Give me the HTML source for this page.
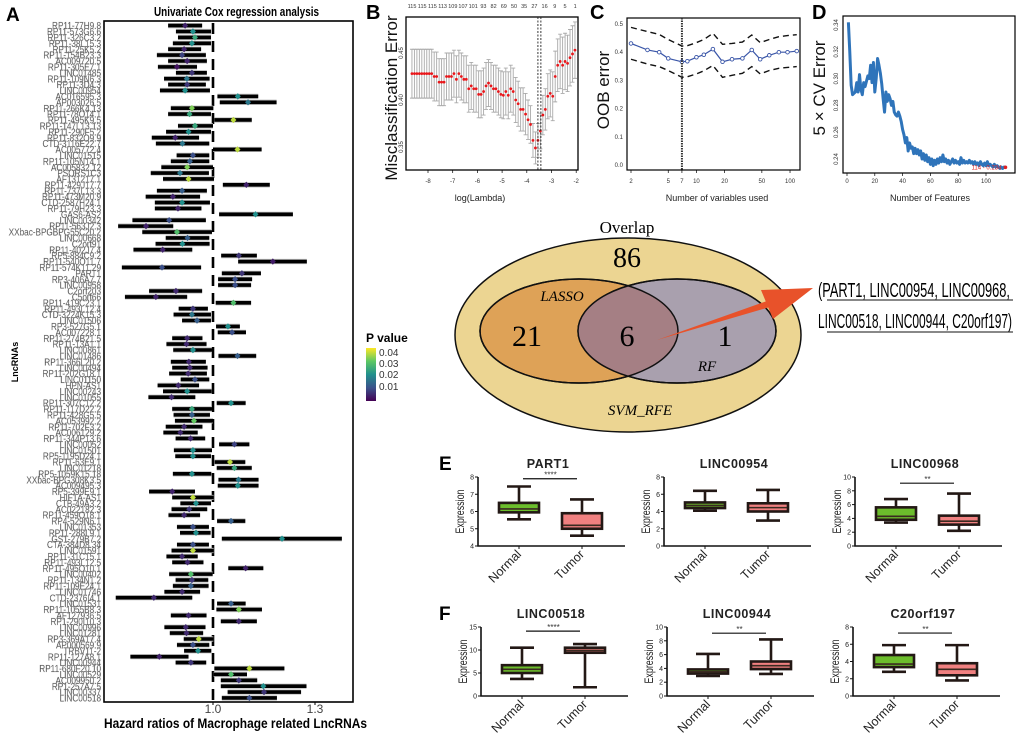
<!DOCTYPE html>
<html><head><meta charset="utf-8"><style>
html,body{margin:0;padding:0;background:#fff;}
svg{display:block;font-family:"Liberation Sans",sans-serif;}
</style></head><body>
<svg id="fig" width="1020" height="736" viewBox="0 0 1020 736" xmlns="http://www.w3.org/2000/svg">
<defs>
<linearGradient id="vir" x1="0" y1="1" x2="0" y2="0">
<stop offset="0" stop-color="#440154"/><stop offset="0.25" stop-color="#3b528b"/><stop offset="0.5" stop-color="#21908d"/><stop offset="0.75" stop-color="#5dc863"/><stop offset="1" stop-color="#fde725"/>
</linearGradient>
<clipPath id="lassoClip"><ellipse cx="579" cy="331" rx="99" ry="52"/></clipPath>
</defs>
<text x="6" y="21" font-size="19" font-weight="bold">A</text>
<text x="366" y="19" font-size="20" font-weight="bold">B</text>
<text x="590" y="19" font-size="20" font-weight="bold">C</text>
<text x="812" y="19" font-size="20" font-weight="bold">D</text>
<text x="439" y="470" font-size="19" font-weight="bold">E</text>
<text x="439" y="620" font-size="19" font-weight="bold">F</text>

<text x="154" y="16" font-size="13" font-weight="bold" textLength="165" lengthAdjust="spacingAndGlyphs">Univariate Cox regression analysis</text>
<text transform="translate(18,362) rotate(-90)" text-anchor="middle" font-size="9" font-weight="bold">LncRNAs</text>
<text x="104" y="728" font-size="14" font-weight="bold" textLength="263" lengthAdjust="spacingAndGlyphs">Hazard ratios of Macrophage related LncRNAs</text>
<g id="forest"></g>

<g>
<text x="366" y="342" font-size="12" font-weight="bold">P value</text>
<rect x="366" y="348" width="10" height="53" fill="url(#vir)"/>
<text x="379" y="356" font-size="10" fill="#333">0.04</text>
<text x="379" y="367" font-size="10" fill="#333">0.03</text>
<text x="379" y="378" font-size="10" fill="#333">0.02</text>
<text x="379" y="390" font-size="10" fill="#333">0.01</text>
</g>

<g id="panelB"></g>
<g id="panelC"></g>
<g id="panelD"></g>

<g>
<ellipse cx="628" cy="335" rx="173" ry="97" fill="#ecd592" stroke="#111" stroke-width="1.5"/>
<ellipse cx="579" cy="331" rx="99" ry="52" fill="#dea257" stroke="#111" stroke-width="1.5"/>
<ellipse cx="677" cy="331" rx="99" ry="52" fill="#a9a0ae" stroke="#111" stroke-width="1.5"/>
<ellipse cx="677" cy="331" rx="99" ry="52" fill="#a57f84" clip-path="url(#lassoClip)"/>
<ellipse cx="579" cy="331" rx="99" ry="52" fill="none" stroke="#111" stroke-width="1.5"/>
<ellipse cx="677" cy="331" rx="99" ry="52" fill="none" stroke="#111" stroke-width="1.5"/>
<text x="627" y="233" text-anchor="middle" font-family="Liberation Serif,serif" font-size="17">Overlap</text>
<text x="627" y="267" text-anchor="middle" font-family="Liberation Serif,serif" font-size="28">86</text>
<text x="562" y="301" text-anchor="middle" font-family="Liberation Serif,serif" font-size="15" font-style="italic">LASSO</text>
<text x="527" y="346" text-anchor="middle" font-family="Liberation Serif,serif" font-size="30">21</text>
<text x="627" y="346" text-anchor="middle" font-family="Liberation Serif,serif" font-size="30">6</text>
<text x="725" y="346" text-anchor="middle" font-family="Liberation Serif,serif" font-size="30">1</text>
<text x="707" y="371" text-anchor="middle" font-family="Liberation Serif,serif" font-size="15" font-style="italic">RF</text>
<text x="640" y="415" text-anchor="middle" font-family="Liberation Serif,serif" font-size="15" font-style="italic">SVM_RFE</text>
<polygon points="657,340 767,301 770,307" fill="#e8522a"/>
<polygon points="813,288 761,290 773,319" fill="#e8522a"/>
<text x="818" y="297" font-size="20" textLength="192" lengthAdjust="spacingAndGlyphs">(PART1, LINC00954, LINC00968,</text>
<text x="818" y="328" font-size="20" textLength="194" lengthAdjust="spacingAndGlyphs">LINC00518, LINC00944, C20orf197)</text>
<line x1="827" y1="300" x2="1013" y2="300" stroke="#111" stroke-width="1"/>
<line x1="827" y1="332" x2="1013" y2="332" stroke="#111" stroke-width="1"/>
</g>
<g id="boxes"></g>
</svg>
<script>
const lncNames=["RP11-77H9.8","RP11-573G6.6","RP11-326C3.2","RP11-38L15.3","RP11-25K5.2","RP11-154B23.3","AC009720.5","RP11-305E7.1","LINC01485","RP11-109N6.3","RP11-3D4.3","LINC00954","AC016595.3","AP003026.5","RP11-266K4.13","RP11-78O14.1","RP11-495K9.5","RP11-147L13.13","RP11-290F5.2","RP11-832O9.9","CTD-3116E22.7","AC005772.4","LINC01515","RP11-105N14.1","AC005832.12","PSORS1C3","AF131217.1","RP11-429J17.7","RP11-737L13.3","RP11-473M20.9","CTD-2587H24.1","RP11-79H23.3","GAS6-AS2","LINC00342","RP11-563J2.3","XXbac-BPGBPG55C20.2","LINC00668","C2orf91","RP11-402J7.4","RP5-884C9.2","RP11-540O11.7","RP11-574K11.29","PART1","RP3-406A7.7","LINC00958","C2orf203","C5orf66","RP11-419C23.1","RP11-493L12.4","CTD-3224K15.3","LINC01506","RP3-527G5.1","AC007228.1","RP11-274B21.5","RP11-13A1.1","LINC00861","LINC01486","RP11-366L20.2","LINC00494","RP11-202G18.1","LINC01150","HPN-AS1","LINC00243","LINC01055","RP11-307C12.2","RP11-117D22.2","RP11-428G5.5","AC053992.2","RP11-702F3.2","AC006129.2","RP11-344P13.6","LINC00052","LINC01501","RP5-1195D24.1","RP11-63E9.1","LINC01218","RP5-1059K15.18","XXbac-BPG308K3.5","AC009495.3","RP5-399E9.1","HIF1A-AS1","CTB-49A3.2","AC022182.3","RP11-459O18.1","RP4-529N6.1","LINC01353","RP11-288L9.1","GS1-279B7.2","CTA-384D8.34","LINC01591","RP11-31C15.1","RP11-493L12.5","RP11-495O10.1","LINC00402","RP11-134N1.2","RP11-109E24.1","LINC01746","CTD-2376I4.1","LINC01531","RP11-1055B8.3","AF127936.5","RP1-290I10.3","LINC00996","LINC01281","RP3-369A17.4","AP000569.9","TRBV11-2","RP11-127A8.1","LINC00944","RP11-680F20.10","LINC00529","AC009950.2","RP1-257A7.5","LINC00337","LINC00518"];
const hrVals=[.918,.941,.947,.938,.915,.909,.924,.894,.938,.923,.924,.918,1.073,1.103,.938,.931,1.06,.947,.928,.889,.910,1.072,.941,.932,.924,.903,.928,1.098,.909,.882,.909,.897,1.125,.871,.803,.894,.925,.910,.852,1.076,1.176,.850,1.085,1.065,1.065,.891,.832,1.06,.941,.938,.953,1.044,1.056,.924,.922,.941,1.072,.929,.932,.927,.947,.898,.924,.878,1.053,.938,.938,.944,.915,.904,.934,1.063,.941,.941,1.05,1.063,.938,1.075,1.073,.880,.941,.950,.930,.915,1.053,.941,.950,1.203,.941,.941,.909,.925,1.096,.935,.938,.935,.909,.826,1.053,1.076,.928,1.076,.920,.922,.958,.941,.956,.842,.935,1.107,1.053,1.076,1.148,1.150,1.107];
const loVals=[.868,.891,.897,.882,.868,.835,.868,.838,.891,.856,.868,.844,1.013,1.020,.876,.868,1.004,.897,.862,.820,.832,1.0,.893,.876,.848,.817,.853,1.029,.835,.802,.829,.829,1.018,.763,.721,.792,.861,.831,.766,1.024,1.074,.732,1.026,1.015,1.015,.812,.741,1.008,.899,.884,.909,1.009,1.014,.880,.863,.883,1.016,.876,.880,.871,.905,.837,.853,.810,1.011,.880,.884,.888,.861,.854,.890,1.018,.885,.889,1.005,1.011,.882,1.016,1.014,.812,.880,.904,.878,.869,1.012,.894,.903,1.026,.894,.878,.863,.880,1.045,.871,.890,.882,.857,.714,1.012,1.010,.876,1.023,.857,.873,.914,.894,.915,.757,.890,1.004,1.002,1.023,1.023,1.043,1.026];
const hiVals=[.968,.994,.994,.994,.965,.979,.982,.953,.982,.990,.979,.991,1.133,1.187,1.001,.994,1.114,1.0,.994,.959,.989,1.143,.989,.989,1.0,.988,1.003,1.167,.982,.962,.991,.966,1.235,.979,.883,.997,.989,.990,.939,1.129,1.276,.965,1.141,1.115,1.112,.968,.924,1.112,.985,.994,.994,1.079,1.097,.969,.981,.997,1.127,.979,.984,.982,.989,.959,.996,.948,1.096,.997,.991,1.0,.969,.955,.977,1.107,.997,.994,1.095,1.114,.995,1.134,1.134,.947,1.002,.994,.983,.962,1.095,.988,.993,1.379,.988,1.002,.955,.972,1.148,.999,.986,.987,.962,.939,1.096,1.144,.981,1.129,.978,.971,1.001,.989,.995,.928,.980,1.210,1.100,1.130,1.275,1.259,1.188];
const pVals=[.005,.025,.03,.025,.005,.01,.005,.003,.008,.02,.008,.025,.025,.02,.04,.03,.045,.03,.025,.005,.02,.045,.012,.015,.04,.02,.045,.005,.015,.005,.025,.005,.025,.012,.005,.035,.015,.025,.005,.008,.004,.012,.008,.012,.012,.006,.005,.035,.008,.02,.015,.025,.012,.006,.006,.025,.015,.006,.006,.006,.012,.006,.025,.006,.025,.03,.015,.038,.006,.006,.006,.01,.025,.025,.045,.03,.025,.02,.025,.005,.045,.025,.008,.006,.015,.012,.025,.025,.012,.045,.006,.006,.005,.035,.008,.015,.006,.006,.015,.04,.006,.006,.006,.006,.045,.012,.025,.005,.008,.045,.035,.008,.025,.008,.012];
const hrTicks=[1.0,1.3];

const lambdaB=[-8.65,-8.55,-8.45,-8.35,-8.25,-8.15,-8.05,-7.95,-7.85,-7.75,-7.65,-7.55,-7.45,-7.35,-7.25,-7.15,-7.05,-6.95,-6.85,-6.75,-6.65,-6.55,-6.45,-6.35,-6.25,-6.15,-6.05,-5.95,-5.85,-5.75,-5.65,-5.55,-5.45,-5.35,-5.25,-5.15,-5.05,-4.95,-4.85,-4.75,-4.65,-4.55,-4.45,-4.35,-4.25,-4.15,-4.05,-3.95,-3.85,-3.75,-3.65,-3.55,-3.45,-3.35,-3.25,-3.15,-3.05,-2.95,-2.85,-2.75,-2.65,-2.55,-2.45,-2.35,-2.25,-2.15,-2.05];
const errB=[.428,.428,.428,.428,.428,.428,.428,.428,.428,.425,.425,.419,.419,.419,.425,.425,.425,.428,.422,.428,.425,.422,.422,.412,.415,.412,.412,.406,.406,.409,.415,.418,.415,.412,.412,.409,.406,.405,.409,.405,.412,.409,.400,.396,.390,.390,.385,.379,.374,.357,.349,.357,.367,.384,.390,.404,.407,.404,.425,.437,.441,.437,.441,.439,.445,.449,.453];
const sdB=[.026,.026,.026,.026,.026,.026,.026,.026,.026,.026,.026,.025,.025,.025,.025,.025,.025,.025,.025,.025,.025,.025,.025,.025,.025,.025,.025,.025,.025,.025,.025,.025,.025,.025,.025,.025,.025,.025,.025,.025,.025,.025,.024,.024,.023,.023,.022,.021,.02,.018,.017,.018,.019,.021,.022,.024,.025,.026,.027,.028,.029,.03,.03,.03,.03,.03,.03];
const topNumB=["115","115","115","113","109","107","101","93","82","69","50","35","27","16","9","5","1"];
const xTicksB=[-8,-7,-6,-5,-4,-3,-2];
const yTicksB=[0.35,0.40,0.45];
const optLambdaB=[-3.55,-3.43];

const nVarsC=[2,3,4,5,7,8,10,12,15,19,24,31,39,48,60,76,94,118];
const oobC=[.431,.408,.40,.378,.366,.368,.382,.391,.411,.366,.375,.378,.408,.375,.389,.40,.40,.404];
const upperC=[.488,.473,.463,.445,.422,.423,.434,.445,.467,.428,.431,.436,.461,.434,.445,.455,.459,.462];
const lowerC=[.375,.358,.349,.335,.311,.313,.323,.334,.353,.311,.318,.325,.349,.323,.335,.343,.346,.349];
const xTicksC=[2,5,7,10,20,50,100];
const yTicksC=[0,0.1,0.2,0.3,0.4,0.5];
const bestC=7;

const cvErrD=[.342,.32,.295,.288,.289,.29,.297,.29,.303,.292,.288,.297,.294,.298,.302,.300,.31,.297,.312,.29,.30,.315,.31,.304,.296,.285,.275,.29,.283,.288,.285,.28,.283,.275,.273,.272,.275,.272,.268,.262,.258,.252,.256,.246,.252,.248,.249,.244,.248,.244,.247,.243,.246,.240,.244,.239,.243,.238,.241,.236,.240,.235,.239,.236,.240,.237,.241,.238,.243,.238,.240,.237,.239,.236,.238,.240,.237,.239,.237,.238,.236,.241,.237,.239,.237,.238,.237,.239,.237,.238,.236,.238,.236,.237,.235,.238,.236,.235,.237,.235,.238,.235,.236,.235,.234,.236,.234,.235,.234,.233,.234,.233,.234,.2338];
const xTicksD=[0,20,40,60,80,100];
const yTicksD=[0.24,0.26,0.28,0.30,0.32,0.34];

const geneTitles=["PART1","LINC00954","LINC00968","LINC00518","LINC00944","C20orf197"];
const normalStats=[[5.55,5.95,6.15,6.5,7.45],[4.1,4.4,4.7,5.05,6.4],[3.4,3.8,4.3,5.6,6.8],[3.7,5.0,5.8,6.7,10.5],[2.9,3.25,3.5,3.85,6.1],[2.8,3.35,3.7,4.75,5.9]];
const tumorStats=[[4.6,5.0,5.2,5.9,6.7],[2.95,4.0,4.45,4.95,6.5],[2.2,3.1,3.6,4.4,7.6],[1.9,9.4,9.9,10.5,11.3],[3.2,3.9,4.4,5.0,8.2],[1.8,2.4,3.1,3.8,5.9]];
const yRanges=[[4,8,1],[0,8,2],[0,10,2],[0,15,5],[0,10,2],[0,8,2]];
const sigLabels=["****","","**","****","**","**"];
const sigLevels=[7.9,0,9.1,14.1,9.1,7.3];

const NS='http://www.w3.org/2000/svg';
function mk(tag,attrs,parent){const e=document.createElementNS(NS,tag);for(const k in attrs)e.setAttribute(k,attrs[k]);parent.appendChild(e);return e;}
function viridis(t){const s=[[68,1,84],[59,82,139],[33,144,141],[93,200,99],[253,231,37]];t=Math.max(0,Math.min(1,t))*4;const i=Math.min(3,Math.floor(t)),f=t-i;const c=s[i].map((v,k)=>Math.round(v+(s[i+1][k]-v)*f));return 'rgb('+c.join(',')+')';}

(function(){
const g=document.getElementById('forest');
const xA=v=>213+(v-1)*340, yA=i=>25.6+i*5.898;
const L=104,R=353,T=21,B=702;
let e=mk('line',{x1:xA(1),y1:T+2,x2:xA(1),y2:B-2,stroke:'#000','stroke-width':2.6,'stroke-dasharray':'11,7'},g);


const lab=mk('g',{transform:'translate(101,0) scale(0.78,1)'},g);


for(let i=0;i<lncNames.length;i++){
 const y=yA(i);
 const t=mk('text',{x:0,y:y+3.6,'text-anchor':'end','font-size':10.5,fill:'#3a3a3a',stroke:'#bbb','stroke-width':0.3},lab);
 t.textContent=lncNames[i];
 
 
 const h=mk('line',{x1:xA(loVals[i]),y1:y,x2:xA(hiVals[i]),y2:y,stroke:'#bdbdbd','stroke-width':5.2},g);
 
 
 const c=mk('line',{x1:xA(loVals[i]),y1:y,x2:xA(hiVals[i]),y2:y,stroke:'#000','stroke-width':3.6},g);
 
 
 const x=xA(hrVals[i]);
 const p=mk('polygon',{points:`${x},${y-3.2} ${x+3},${y} ${x},${y+3.2} ${x-3},${y}`,fill:viridis(pVals[i]/0.05)},g);
 
 
}
e=mk('rect',{x:L,y:T,width:R-L,height:B-T,fill:'none',stroke:'#000','stroke-width':1.6},g);


hrTicks.forEach(v=>{
 const tk=mk('line',{x1:xA(v),y1:B,x2:xA(v),y2:B+3,stroke:'#000'},g);
 
 
 const tl=mk('text',{x:xA(v),y:B+11,'text-anchor':'middle','font-size':12,fill:'#444'},g);
 tl.textContent=v.toFixed(1);
 
 
});
})();

(function(){
const g=document.getElementById('panelB');
const L=406,R=578,T=17,B=170;
const xB=v=>428+(v+8)*24.7, yB=v=>100-(v-0.40)*940;
let e=mk('rect',{x:L,y:T,width:R-L,height:B-T,fill:'none',stroke:'#000','stroke-width':1.3},g);


for(let i=0;i<lambdaB.length;i++){
 const x=xB(lambdaB[i]),y1=yB(errB[i]+sdB[i]),y2=yB(errB[i]-sdB[i]);
 const eb=mk('path',{d:`M${x},${y1}V${y2}M${x-2},${y1}H${x+2}M${x-2},${y2}H${x+2}`,stroke:'#aaa','stroke-width':0.9,fill:'none'},g);
 
 
}
for(let i=0;i<lambdaB.length;i++){
 const d=mk('circle',{cx:xB(lambdaB[i]),cy:yB(errB[i]),r:1.4,fill:'#e8171b'},g);
 
 
}
optLambdaB.forEach(v=>{
 const l=mk('line',{x1:xB(v),y1:T,x2:xB(v),y2:B,stroke:'#222','stroke-width':0.9,'stroke-dasharray':'2,1.5'},g);
 
 
});
topNumB.forEach((s,i)=>{
 const t=mk('text',{x:412+i*10.2,y:8,'text-anchor':'middle','font-size':5.5,fill:'#333'},g);
 t.textContent=s;
 
 
});
xTicksB.forEach(v=>{
 const t=mk('text',{x:xB(v),y:183,'text-anchor':'middle','font-size':6,fill:'#333'},g);
 t.textContent=v;
 
 
 const tk=mk('line',{x1:xB(v),y1:B,x2:xB(v),y2:B+3,stroke:'#000','stroke-width':0.7},g);
 
 
});
yTicksB.forEach(v=>{
 const t=mk('text',{transform:`translate(403,${yB(v)}) rotate(-90)`,'text-anchor':'middle','font-size':6,fill:'#333'},g);
 t.textContent=v.toFixed(2);
 
 
});
let t=mk('text',{transform:'translate(397,98) rotate(-90)','text-anchor':'middle','font-size':17,fill:'#111'},g);
t.textContent='Misclassification Error';


t=mk('text',{x:480,y:201,'text-anchor':'middle','font-size':9,fill:'#222'},g);
t.textContent='log(Lambda)';


})();

(function(){
const g=document.getElementById('panelC');
const L=627,R=800,T=18,B=170;
const xC=n=>631+Math.log10(n/2)*93.6, yC=v=>165-v*282;
let e=mk('rect',{x:L,y:T,width:R-L,height:B-T,fill:'none',stroke:'#000','stroke-width':1.2},g);


const path=a=>a.map((v,i)=>(i?'L':'M')+xC(nVarsC[i])+','+yC(v)).join('');
e=mk('path',{d:path(upperC),fill:'none',stroke:'#111','stroke-width':1.4,'stroke-dasharray':'6,4'},g);


e=mk('path',{d:path(lowerC),fill:'none',stroke:'#111','stroke-width':1.4,'stroke-dasharray':'6,4'},g);


e=mk('path',{d:path(oobC),fill:'none',stroke:'#3a56a8','stroke-width':1.2},g);


oobC.forEach((v,i)=>{
 const c=mk('circle',{cx:xC(nVarsC[i]),cy:yC(v),r:1.8,fill:'#fff',stroke:'#3a56a8','stroke-width':0.9},g);
 
 
});
e=mk('line',{x1:xC(bestC),y1:T,x2:xC(bestC),y2:B,stroke:'#333','stroke-width':2,'stroke-dasharray':'1.5,1'},g);


xTicksC.forEach(v=>{
 const t=mk('text',{x:xC(v),y:183,'text-anchor':'middle','font-size':6,fill:'#333'},g);
 t.textContent=v;
 
 
 const tk=mk('line',{x1:xC(v),y1:B,x2:xC(v),y2:B+3,stroke:'#000','stroke-width':0.7},g);
 
 
});
yTicksC.forEach(v=>{
 const t=mk('text',{x:623,y:yC(v)+2,'text-anchor':'end','font-size':6,fill:'#333'},g);
 t.textContent=v.toFixed(1);
 
 
});
let t=mk('text',{transform:'translate(609,90) rotate(-90)','text-anchor':'middle','font-size':17,fill:'#111'},g);
t.textContent='OOB error';


t=mk('text',{x:717,y:201,'text-anchor':'middle','font-size':9,fill:'#222'},g);
t.textContent='Number of variables used';


})();

(function(){
const g=document.getElementById('panelD');
const L=843,R=1015,T=16,B=173;
const xD=n=>847+n*1.39, yD=v=>25+(0.34-v)*1340;
let e=mk('rect',{x:L,y:T,width:R-L,height:B-T,fill:'none',stroke:'#000','stroke-width':1.2},g);


e=mk('path',{d:cvErrD.map((v,i)=>(i?'L':'M')+xD(i+1)+','+yD(v)).join(''),fill:'none',stroke:'#2f74ba','stroke-width':3,'stroke-linejoin':'round'},g);


const n=cvErrD.length;
e=mk('circle',{cx:xD(n),cy:yD(cvErrD[n-1]),r:1.8,fill:'#e02020'},g);


e=mk('text',{x:xD(n)-4,y:yD(cvErrD[n-1])+2,'text-anchor':'end','font-size':6,fill:'#e02020'},g);
e.textContent=n+' - '+cvErrD[n-1].toFixed(3);


xTicksD.forEach(v=>{
 const t=mk('text',{x:xD(v),y:183,'text-anchor':'middle','font-size':6,fill:'#333'},g);
 t.textContent=v;
 
 
 const tk=mk('line',{x1:xD(v),y1:B,x2:xD(v),y2:B+3,stroke:'#000','stroke-width':0.7},g);
 
 
});
yTicksD.forEach(v=>{
 const t=mk('text',{transform:`translate(838,${yD(v)}) rotate(-90)`,'text-anchor':'middle','font-size':6,fill:'#333'},g);
 t.textContent=v.toFixed(2);
 
 
});
let t=mk('text',{transform:'translate(825,88) rotate(-90)','text-anchor':'middle','font-size':17,fill:'#111'},g);
t.textContent='5 \u00d7 CV Error';


t=mk('text',{x:930,y:201,'text-anchor':'middle','font-size':9,fill:'#222'},g);
t.textContent='Number of Features';


})();

(function(){
const g=document.getElementById('boxes');
const axX=[478,664,855,481,667,853], topY=[477,477,477,627,627,627], botY=[546,546,546,696,696,696];
for(let k=0;k<6;k++){
 const [lo,hi,st]=yRanges[k];
 const yS=v=>botY[k]-(v-lo)/(hi-lo)*(botY[k]-topY[k]);
 const ax=axX[k], nx=ax+41, tx=ax+104, right=ax+147;
 const sub=mk('g',{},g);
 
 
 let e=mk('path',{d:`M${ax},${topY[k]}V${botY[k]}H${right}`,fill:'none',stroke:'#111','stroke-width':1.6},sub);
 
 
 for(let v=lo;v<=hi+1e-9;v+=st){
  const tk=mk('line',{x1:ax-3,y1:yS(v),x2:ax,y2:yS(v),stroke:'#111','stroke-width':1},sub);
  
  
  const tl=mk('text',{x:ax-4,y:yS(v)+2.5,'text-anchor':'end','font-size':7,fill:'#222'},sub);
  tl.textContent=v;
  
  
 }
 const title=mk('text',{x:ax+70,y:topY[k]-9,'text-anchor':'middle','font-size':12.5,'font-weight':'bold',fill:'#222','letter-spacing':'0.5'},sub);
 title.textContent=geneTitles[k];
 
 
 const yl=mk('text',{transform:`translate(${ax-14},${(topY[k]+botY[k])/2}) rotate(-90)`,'text-anchor':'middle','font-size':12,fill:'#222',textLength:44,lengthAdjust:'spacingAndGlyphs'},sub);
 yl.textContent='Expression';
 
 
 [[nx,normalStats[k],'#6cbd2c','Normal'],[tx,tumorStats[k],'#f08080','Tumor']].forEach(([cx,s,col,name])=>{
  const w=mk('path',{d:`M${cx},${yS(s[0])}V${yS(s[4])}M${cx-12},${yS(s[0])}H${cx+12}M${cx-12},${yS(s[4])}H${cx+12}`,stroke:'#231815','stroke-width':2.6,fill:'none'},sub);
  
  
  const b=mk('rect',{x:cx-20,y:yS(s[3]),width:40,height:yS(s[1])-yS(s[3]),fill:col,stroke:'#231815','stroke-width':2.6},sub);
  
  
  const m=mk('line',{x1:cx-19,y1:yS(s[2]),x2:cx+19,y2:yS(s[2]),stroke:'#3a2a20','stroke-width':1.6},sub);
  
  
  const tk=mk('line',{x1:cx,y1:botY[k],x2:cx,y2:botY[k]+3,stroke:'#111','stroke-width':1},sub);
  
  
  const lab=mk('text',{transform:`translate(${cx+3},${botY[k]+9}) rotate(-45)`,'text-anchor':'end','font-size':12.5,fill:'#222'},sub);
  lab.textContent=name;
  
  
 });
 if(sigLabels[k]){
  const y=yS(sigLevels[k]);
  const l=mk('line',{x1:nx+4,y1:y,x2:tx-5,y2:y,stroke:'#111','stroke-width':1.2},sub);
  
  
  const s=mk('text',{x:(nx+tx)/2,y:y-1,'text-anchor':'middle','font-size':8,fill:'#333'},sub);
  s.textContent=sigLabels[k];
  
  
 }
}
})();
</script>
</body></html>
